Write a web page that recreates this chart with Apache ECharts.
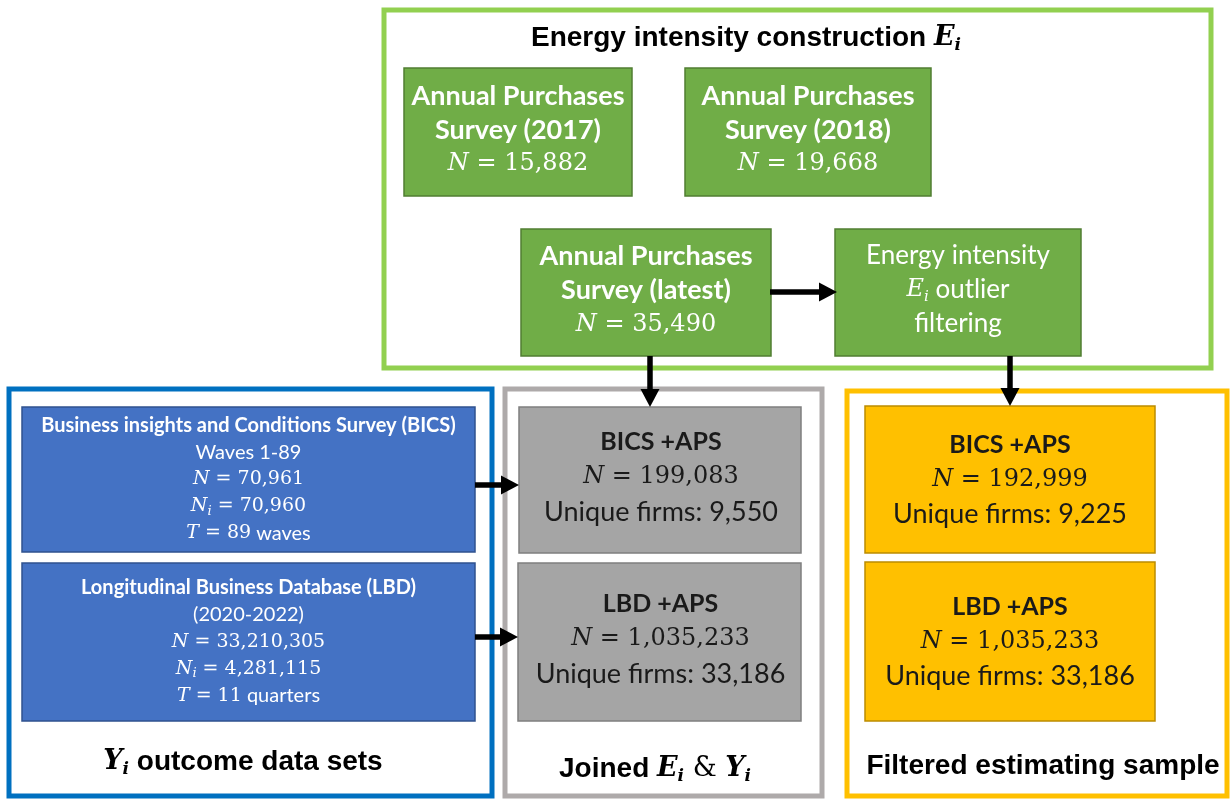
<!DOCTYPE html>
<html>
<head>
<meta charset="utf-8">
<script src="https://cdn.jsdelivr.net/npm/echarts@6/dist/echarts.min.js"></script>
<style>
html, body { margin: 0; padding: 0; background: #fff; }
#main { width: 1231px; height: 799px; }
</style>
</head>
<body>
<div id="main"></div>
<script>
// 各框的文字数据
var apsTitles = [['Annual Purchases', 'Survey (2017)'], ['Annual Purchases', 'Survey (2018)'], ['Annual Purchases', 'Survey (latest)']];
var apsN = ['15,882', '19,668', '35,490'];
var filterLines = ['Energy intensity', 'outlier', 'filtering'];
var outcomeNames = ['Business insights and Conditions Survey (BICS)', 'Longitudinal Business Database (LBD)'];
var outcomePeriods = ['Waves 1-89', '(2020-2022)'];
var outcomeN = ['70,961', '33,210,305'];
var outcomeNi = ['70,960', '4,281,115'];
var outcomeT = ['89', '11'];
var outcomeTUnits = ['waves', 'quarters'];
var joinedNames = ['BICS +APS', 'LBD +APS'];
var joinedN = ['199,083', '1,035,233'];
var joinedFirms = ['9,550', '33,186'];
var filteredNames = ['BICS +APS', 'LBD +APS'];
var filteredN = ['192,999', '1,035,233'];
var filteredFirms = ['9,225', '33,186'];
var panelTitles = ['Energy intensity construction', 'outcome data sets', 'Joined', 'Filtered estimating sample'];

// 布局 [x, y, w, h]
var frames = [
  { r: [384, 10, 827, 358], color: '#92d050' },
  { r: [9, 389, 483, 407], color: '#0070c0' },
  { r: [505, 389, 317, 407], color: '#aeaaaa' },
  { r: [847, 391, 380, 405], color: '#ffc000' }
];
var apsBoxes = [[404, 68, 228, 128], [685, 68, 246, 128], [521, 229, 250, 127]];
var filterBox = [835, 229, 246, 127];
var outcomeBoxes = [[22, 407, 453, 145], [22, 563, 453, 158]];
var joinedBoxes = [[519, 407, 282, 146], [518, 563, 283, 158]];
var filteredBoxes = [[865, 406, 290, 147], [865, 562, 290, 159]];
var arrows = [[650, 356, 650, 407], [1010, 356, 1010, 406], [770, 292, 837, 292], [475, 485, 519, 485], [475, 637, 518, 637]];

var SANS = 'Lato';
var MATH = 'DejaVu Serif';
var HEAD = 'Liberation Sans';

function richStyle(bSize, rSize, mathSize, subSize, color, lh) {
  return {
    b: { fontFamily: SANS, fontWeight: 'bold', fontSize: bSize, fill: color, lineHeight: lh },
    r: { fontFamily: SANS, fontSize: rSize, fill: color, lineHeight: lh },
    mi: { fontFamily: MATH, fontStyle: 'italic', fontSize: mathSize, fill: color, lineHeight: lh },
    m: { fontFamily: MATH, fontSize: mathSize, fill: color, lineHeight: lh },
    sub: { fontFamily: MATH, fontStyle: 'italic', fontSize: subSize, fill: color, verticalAlign: 'bottom', padding: [0, 0, 2, 0] }
  };
}
var headRich = {
  t: { fontFamily: HEAD, fontWeight: 'bold', fontSize: 28, fill: '#000', lineHeight: 36 },
  be: { fontFamily: MATH, fontWeight: 'bold', fontStyle: 'italic', fontSize: 27, fill: '#000', lineHeight: 36 },
  bs: { fontFamily: MATH, fontWeight: 'bold', fontStyle: 'italic', fontSize: 17, fill: '#000', verticalAlign: 'bottom', padding: [0, 0, 2, 0] },
  m: { fontFamily: MATH, fontSize: 27, fill: '#000', lineHeight: 36 }
};

var elements = [];

function addRect(r, fill, stroke, lw) {
  elements.push({
    type: 'rect',
    shape: { x: r[0], y: r[1], width: r[2], height: r[3] },
    style: { fill: fill, stroke: stroke, lineWidth: lw }
  });
}
function addText(x, y, text, rich) {
  elements.push({
    type: 'text',
    x: x, y: y,
    style: { text: text, rich: rich, align: 'center', verticalAlign: 'middle' }
  });
}
function center(r) { return [r[0] + r[2] / 2, r[1] + r[3] / 2]; }

// 外框
frames.forEach(function(f) { addRect(f.r, 'none', f.color, 5); });

// 标题
addText(746, 38, '{t|' + panelTitles[0] + ' }{be|E}{bs|i}', headRich);
addText(243, 762, '{be|Y}{bs|i}{t| ' + panelTitles[1] + '}', headRich);
addText(655, 769, '{t|' + panelTitles[2] + ' }{be|E}{bs|i}{m| & }{be|Y}{bs|i}', headRich);
addText(1043, 766, '{t|' + panelTitles[3] + '}', headRich);

// APS 绿色框
var greenRich = richStyle(27, 26, 24, 15, '#fff', 34);
apsBoxes.forEach(function(r, i) {
  addRect(r, '#70ad47', '#507e32', 1.5);
  var c = center(r);
  addText(c[0], c[1] - 2, '{b|' + apsTitles[i][0] + '}\n{b|' + apsTitles[i][1] + '}\n{mi|N}{m| = ' + apsN[i] + '}', greenRich);
});
addRect(filterBox, '#70ad47', '#507e32', 1.5);
(function() {
  var c = center(filterBox);
  addText(c[0], c[1] - 3, '{r|' + filterLines[0] + '}\n{mi|E}{sub|i}{r| ' + filterLines[1] + '}\n{r|' + filterLines[2] + '}', greenRich);
})();

// 结果数据 蓝色框
var blueRich = richStyle(20, 20, 19, 13, '#fff', 27);
outcomeBoxes.forEach(function(r, i) {
  addRect(r, '#4472c4', '#2f528f', 1.5);
  var c = center(r);
  addText(c[0], c[1], '{b|' + outcomeNames[i] + '}\n{r|' + outcomePeriods[i] + '}\n{mi|N}{m| = ' + outcomeN[i] + '}\n{mi|N}{sub|i}{m| = ' + outcomeNi[i] + '}\n{mi|T}{m| = ' + outcomeT[i] + '}{r| ' + outcomeTUnits[i] + '}', blueRich);
});

// 合并 灰色框
var darkRich = richStyle(25, 27, 24, 15, '#1a1a1a', 35);
joinedBoxes.forEach(function(r, i) {
  addRect(r, '#a5a5a5', '#7f7f7f', 1.5);
  var c = center(r);
  addText(c[0] + 1, c[1] - 3, '{b|' + joinedNames[i] + '}\n{mi|N}{m| = ' + joinedN[i] + '}\n{r|Unique firms: ' + joinedFirms[i] + '}', darkRich);
});

// 过滤后 黄色框
filteredBoxes.forEach(function(r, i) {
  addRect(r, '#ffc000', '#bc8c00', 1.5);
  var c = center(r);
  addText(c[0], c[1], '{b|' + filteredNames[i] + '}\n{mi|N}{m| = ' + filteredN[i] + '}\n{r|Unique firms: ' + filteredFirms[i] + '}', darkRich);
});

// 箭头
arrows.forEach(function(a) {
  var dx = a[2] - a[0], dy = a[3] - a[1];
  var len = Math.sqrt(dx * dx + dy * dy);
  var ux = dx / len, uy = dy / len;
  var hl = 18, hw = 9.5;
  var bx = a[2] - ux * hl, by = a[3] - uy * hl;
  elements.push({
    type: 'line',
    shape: { x1: a[0], y1: a[1], x2: bx + ux * 2, y2: by + uy * 2 },
    style: { stroke: '#000', lineWidth: 5.5 }
  });
  elements.push({
    type: 'polygon',
    shape: { points: [[bx - uy * hw, by + ux * hw], [bx + uy * hw, by - ux * hw], [a[2], a[3]]] },
    style: { fill: '#000' }
  });
});

var myChart = echarts.init(document.getElementById('main'));
var option = {
  backgroundColor: '#fff',
  animation: false,
  graphic: { elements: elements }
};
myChart.setOption(option);
window.addEventListener('resize', function() {
  myChart.resize();
});
</script>
</body>
</html>
